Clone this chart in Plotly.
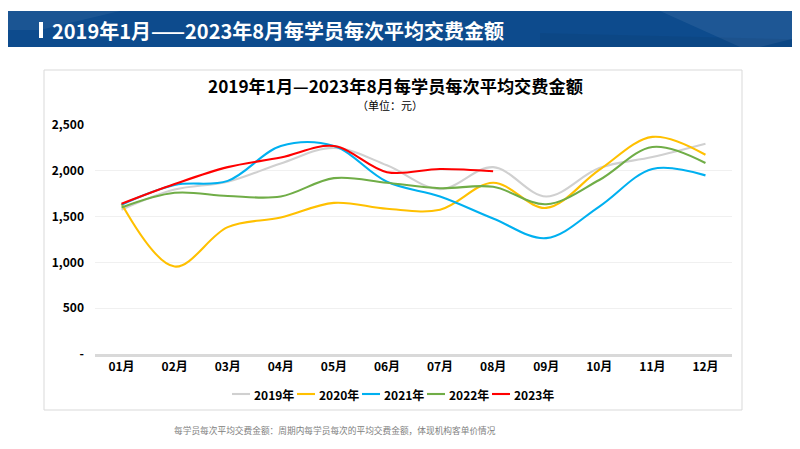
import plotly.graph_objects as go

months = ["01月", "02月", "03月", "04月", "05月", "06月", "07月", "08月", "09月", "10月", "11月", "12月"]
y2019 = [1575, 1795, 1880, 2080, 2250, 2060, 1800, 2040, 1720, 2030, 2150, 2295]
y2020 = [1640, 955, 1385, 1490, 1650, 1585, 1575, 1870, 1595, 2010, 2370, 2175]
y2021 = [1630, 1845, 1890, 2270, 2270, 1880, 1720, 1480, 1265, 1610, 2020, 1950]
y2022 = [1600, 1760, 1725, 1720, 1920, 1870, 1810, 1825, 1635, 1900, 2260, 2085]
y2023 = [1640, 1855, 2040, 2145, 2270, 1985, 2020, 1995]
series = [("2019年", y2019, "#d0d0d0"), ("2020年", y2020, "#ffc000"),
          ("2021年", y2021, "#00b0f0"), ("2022年", y2022, "#70ad47"),
          ("2023年", y2023, "#ff0000")]
yticks = [0, 500, 1000, 1500, 2000, 2500]
yticktext = ["-", "500", "1,000", "1,500", "2,000", "2,500"]

W, H = 800, 449
OFF = 8  # page body margin
L, R, T, B = 95, 732, 125, 354  # plot area in page pixels
def px(x): return (x - L) / (R - L)
def py(y): return (B - y) / (B - T)

FONT = "Noto Sans CJK SC"
fig = go.Figure()
for name, vals, col in series:
    fig.add_trace(go.Scatter(x=months[:len(vals)], y=vals, name=name, mode="lines", showlegend=False,
                             line=dict(color=col, width=2.1, shape="spline", smoothing=1.0)))

shapes = [
    dict(type="rect", xref="paper", yref="paper", x0=px(-10), x1=px(820), y0=py(47), y1=py(11),
         fillcolor="#0d4b8d", line=dict(width=0), layer="below"),
    dict(type="path", xref="paper", yref="paper",
         path=f"M {px(-10)},{py(11)} L {px(120)},{py(11)} L {px(40)},{py(30)} L {px(-10)},{py(30)} Z",
         fillcolor="rgba(255,255,255,0.06)", line=dict(width=0), layer="below"),
    dict(type="path", xref="paper", yref="paper",
         path=f"M {px(660)},{py(11)} L {px(820)},{py(11)} L {px(820)},{py(32)} L {px(760)},{py(47)} L {px(740)},{py(47)} Z",
         fillcolor="rgba(255,255,255,0.07)", line=dict(width=0), layer="below"),
    dict(type="path", xref="paper", yref="paper",
         path=f"M {px(540)},{py(33)} L {px(820)},{py(40)} L {px(820)},{py(47)} L {px(540)},{py(47)} Z",
         fillcolor="rgba(0,0,0,0.05)", line=dict(width=0), layer="below"),
    dict(type="rect", xref="paper", yref="paper", x0=px(39), x1=px(43), y0=py(38), y1=py(22),
         fillcolor="white", line=dict(width=0)),
    dict(type="rect", xref="paper", yref="paper", x0=px(44), x1=px(742), y0=py(410), y1=py(70),
         fillcolor="rgba(0,0,0,0)", line=dict(color="#d9d9d9", width=1), layer="below"),
]

annotations = [
    dict(text="2019年1月——2023年8月每学员每次平均交费金额", x=px(50), y=py(30), xref="paper", yref="paper",
         xanchor="left", yanchor="middle", showarrow=False,
         font=dict(family=FONT, size=20, color="white", weight="bold")),
    dict(text="2019年1月—2023年8月每学员每次平均交费金额", x=px(395), y=py(85.5), xref="paper", yref="paper",
         xanchor="center", yanchor="middle", showarrow=False,
         font=dict(family=FONT, size=17.2, color="#000000", weight="bold")),
    dict(text="（单位：元）", x=px(390), y=py(105), xref="paper", yref="paper",
         xanchor="center", yanchor="middle", showarrow=False,
         font=dict(family=FONT, size=11, color="#000000")),
    dict(text="每学员每次平均交费金额：周期内每学员每次的平均交费金额，体现机构客单价情况", x=px(172), y=py(430),
         xref="paper", yref="paper", xanchor="left", yanchor="middle", showarrow=False,
         font=dict(family=FONT, size=8.7, color="#808080")),
]

# manual legend
LEG_X0, LEG_PITCH, LEG_Y = 232, 65, 394
for i, (name, vals, col) in enumerate(series):
    x0 = LEG_X0 + i * LEG_PITCH
    shapes.append(dict(type="line", xref="paper", yref="paper", x0=px(x0), x1=px(x0 + 18),
                       y0=py(LEG_Y), y1=py(LEG_Y), line=dict(color=col, width=2.1)))
    annotations.append(dict(text=name, x=px(x0 + 20), y=py(LEG_Y), xref="paper", yref="paper",
                            xanchor="left", yanchor="middle", showarrow=False,
                            font=dict(family=FONT, size=12, color="#000000", weight="bold")))

fig.update_layout(
    width=W, height=H, margin=dict(l=L - OFF, r=W - (R - OFF), t=T - OFF, b=H - (B - OFF)),
    paper_bgcolor="white", plot_bgcolor="white",
    font=dict(family=FONT, color="#000000"),
    shapes=shapes, annotations=annotations,
    showlegend=False,
    xaxis=dict(type="category", showgrid=False, showline=True, linecolor="#d9d9d9", linewidth=2.5,
               ticks="", tickfont=dict(family=FONT, size=12, weight="bold", color="#000000"),
               range=[-0.5, 11.5], fixedrange=True),
    yaxis=dict(range=[0, 2500], tickvals=yticks, ticktext=yticktext, showgrid=True,
               gridcolor="#f0f0f0", gridwidth=1, zeroline=False, showline=False, ticks="",
               ticklabelstandoff=10,
               tickfont=dict(family=FONT, size=12, weight="bold", color="#000000")),
)
fig.write_html("out.html")
